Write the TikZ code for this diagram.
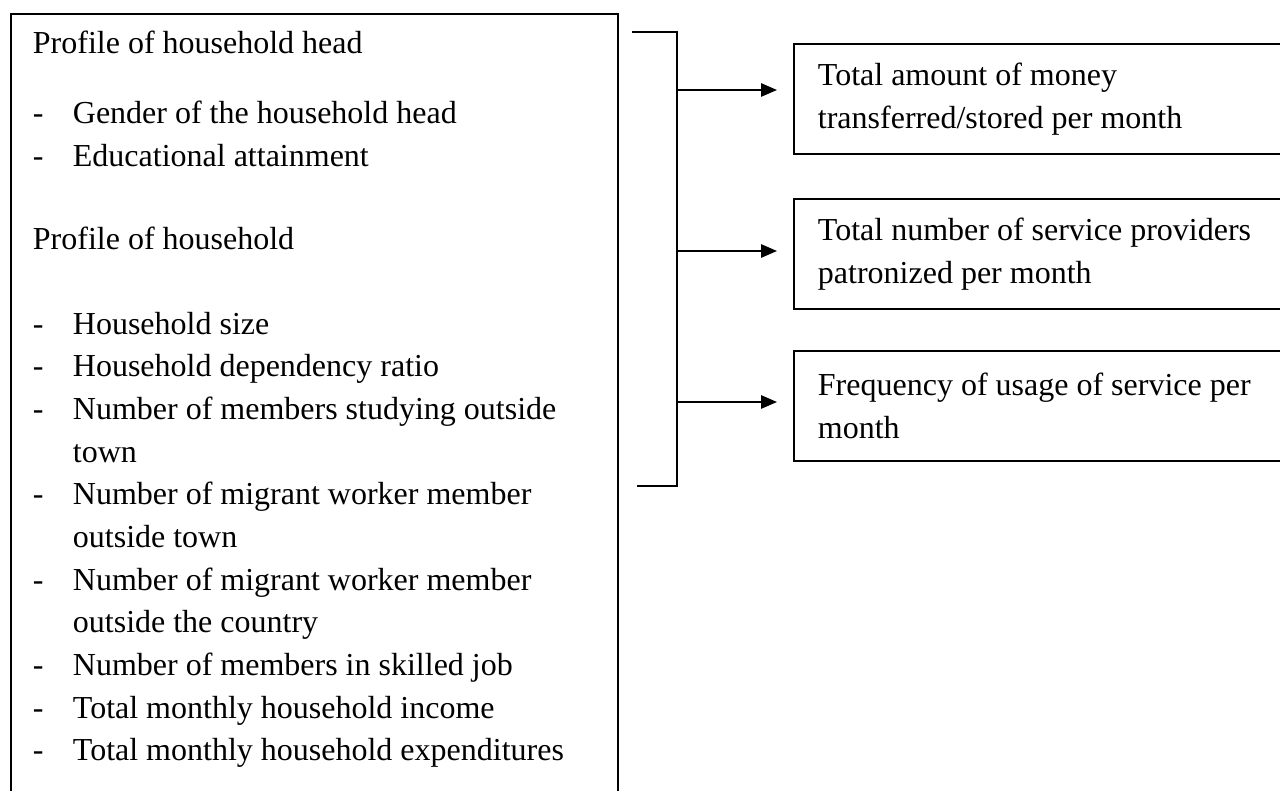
\documentclass[tikz,border=0pt]{standalone}
\usepackage{fontspec}
\setmainfont{Liberation Serif}
\usetikzlibrary{arrows.meta}
\begin{document}
\begin{tikzpicture}[x=0.75pt,y=-0.75pt,
  line width=1.4pt,
  txt/.style={font=\fontsize{24pt}{32pt}\selectfont, inner sep=0pt},
  frame/.style={draw, inner sep=0pt},
  outbox/.style={draw, anchor=north west, text width=354pt, inner xsep=18pt, inner ysep=0pt,
    minimum height=82.5pt, align=flush left, font=\fontsize{24pt}{32pt}\selectfont},
  bracketline/.style={line width=1.4pt},
  arr/.style={line width=1.4pt, -{Triangle[length=12pt,width=10pt]}, shorten >=12pt}
]
\useasboundingbox (0,0) rectangle (1280,791);
\clip (0,0) rectangle (1280,791);

% left box
\node[frame, anchor=north west, minimum width=455.25pt, minimum height=615pt] (factors) at (10,13) {};
\node[txt, anchor=north west, align=left] (factorsText) at (32,30) {Profile of household head\\[20.5pt]
\makebox[30pt][l]{-}Gender of the household head\\
\makebox[30pt][l]{-}Educational attainment\\[30.25pt]
Profile of household\\[31.75pt]
\makebox[30pt][l]{-}Household size\\
\makebox[30pt][l]{-}Household dependency ratio\\
\makebox[30pt][l]{-}Number of members studying outside\\
\hspace*{30pt}town\\
\makebox[30pt][l]{-}Number of migrant worker member\\
\hspace*{30pt}outside town\\
\makebox[30pt][l]{-}Number of migrant worker member\\
\hspace*{30pt}outside the country\\
\makebox[30pt][l]{-}Number of members in skilled job\\
\makebox[30pt][l]{-}Total monthly household income\\
\makebox[30pt][l]{-}Total monthly household expenditures};

% right boxes
\node[outbox] (r1) at (793,43) {Total amount of money\\transferred/stored per month};
\node[outbox] (r2) at (793,198) {Total number of service providers\\patronized per month};
\node[outbox] (r3) at (793,350) {Frequency of usage of service per\\month};

% bracket
\coordinate (btl) at (632,32);
\coordinate (bt) at (677,32);
\coordinate (bb) at (677,486);
\coordinate (bbl) at (637,486);
\draw[bracketline] (btl) -- (bt) -- (bb) -- (bbl);

% arrows
\coordinate (a1) at (677,90);
\coordinate (a2) at (677,251);
\coordinate (a3) at (677,402);
\draw[arr] (a1) -- (a1 -| r1.west);
\draw[arr] (a2) -- (a2 -| r2.west);
\draw[arr] (a3) -- (a3 -| r3.west);
\end{tikzpicture}
\end{document}
